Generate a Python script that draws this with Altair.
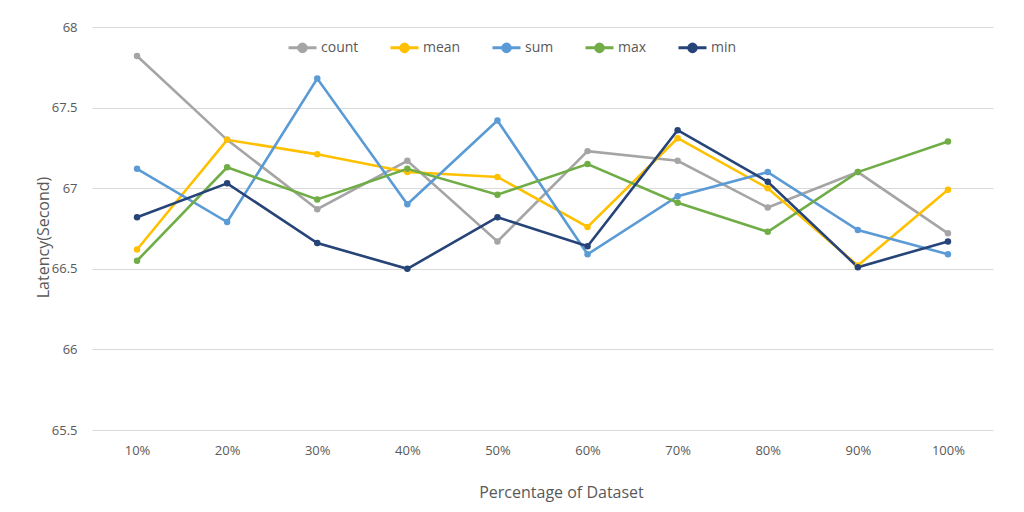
import altair as alt
import pandas as pd

categories = ["10%", "20%", "30%", "40%", "50%", "60%", "70%", "80%", "90%", "100%"]
count_vals = [67.82, 67.30, 66.87, 67.17, 66.67, 67.23, 67.17, 66.88, 67.10, 66.72]
mean_vals = [66.62, 67.30, 67.21, 67.10, 67.07, 66.76, 67.31, 67.00, 66.52, 66.99]
sum_vals = [67.12, 66.79, 67.68, 66.90, 67.42, 66.59, 66.95, 67.10, 66.74, 66.59]
max_vals = [66.55, 67.13, 66.93, 67.12, 66.96, 67.15, 66.91, 66.73, 67.10, 67.29]
min_vals = [66.82, 67.03, 66.66, 66.50, 66.82, 66.64, 67.36, 67.04, 66.51, 66.67]

series_names = ["count", "mean", "sum", "max", "min"]
series_colors = ["#A5A5A5", "#FFC000", "#5B9BD5", "#70AD47", "#264478"]
series_vals = [count_vals, mean_vals, sum_vals, max_vals, min_vals]

rows = []
for si, (name, vals) in enumerate(zip(series_names, series_vals)):
    for c, v in zip(categories, vals):
        rows.append({"Percentage": c, "Latency": v, "Series": name, "order": si})
df = pd.DataFrame(rows)

legend_symbol = ("M -1 0 L 1 0 M 0.27 0 A 0.27 0.27 0 1 1 -0.27 0 "
                 "A 0.27 0.27 0 1 1 0.27 0 Z")

font = "Open Sans"

chart = alt.Chart(df).mark_line(
    strokeWidth=2.6,
    point=alt.OverlayMarkDef(filled=True, size=42, opacity=1),
).encode(
    x=alt.X("Percentage:N", sort=categories,
            scale=alt.Scale(type="point", padding=0.5),
            axis=alt.Axis(title="Percentage of Dataset", labelAngle=0,
                          labelPadding=14, ticks=False, domain=False, grid=False,
                          titleX=469, titleY=62, titleBaseline="middle",
                          titleAlign="center")),
    y=alt.Y("Latency:Q",
            scale=alt.Scale(domain=[65.5, 68], nice=False, zero=False),
            axis=alt.Axis(title="Latency(Second)", values=[65.5, 66, 66.5, 67, 67.5, 68],
                          labelExpr="datum.value", ticks=False, domain=False,
                          labelPadding=15, titleX=-49, titleY=210,
                          titleBaseline="middle", titleAlign="center")),
    color=alt.Color("Series:N",
                    scale=alt.Scale(domain=series_names, range=series_colors),
                    sort=series_names,
                    legend=alt.Legend(title=None, orient="none", direction="horizontal",
                                      legendX=195, legendY=5,
                                      symbolType=legend_symbol, symbolSize=784,
                                      symbolStrokeWidth=3, symbolFillColor=None,
                                      labelOffset=3, columnPadding=25, padding=0,
                                      labelFontSize=14, labelColor="#595959",
                                      labelFont=font)),
    order=alt.Order("order:Q"),
).properties(
    width=901, height=403,
    autosize=alt.AutoSizeParams(type="none"),
    padding={"left": 84, "top": 19, "right": 20, "bottom": 80},
    background="white",
).configure_view(
    stroke=None
).configure_axis(
    gridColor="#D9D9D9", gridWidth=1,
    labelFont=font, labelFontSize=13, labelColor="#595959",
    titleFont=font, titleFontSize=16, titleColor="#595959", titleFontWeight="normal",
)

chart.save("out.html", embed_options={"renderer": "svg", "actions": False})
